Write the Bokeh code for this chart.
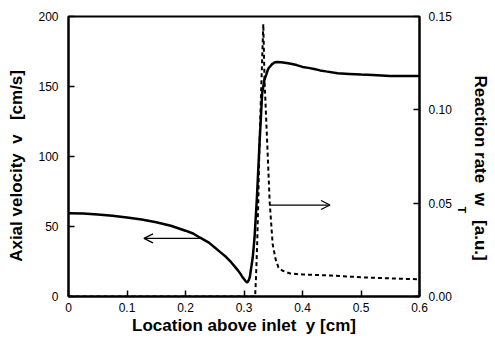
from bokeh.plotting import figure
from bokeh.models import (Range1d, LinearAxis, FixedTicker, Arrow, OpenHead, Title)
from bokeh.embed import file_html
from bokeh.resources import INLINE

# ---- data ----
y_vel = [0.0, 0.025, 0.05, 0.075, 0.10, 0.125, 0.15, 0.175, 0.20, 0.213, 0.225,
         0.24, 0.25, 0.26, 0.27, 0.278, 0.285, 0.29, 0.295, 0.298, 0.300, 0.303,
         0.3055, 0.308, 0.310, 0.315, 0.318, 0.322, 0.3265, 0.331, 0.335, 0.338,
         0.340, 0.342, 0.345, 0.348, 0.350, 0.353, 0.357, 0.363, 0.370, 0.38,
         0.39, 0.40, 0.41, 0.42, 0.43, 0.44, 0.46, 0.48, 0.50, 0.52, 0.55, 0.60]
velocity = [59.5, 59.2, 58.5, 57.7, 56.5, 55.0, 53.0, 50.5, 47.0, 45.0, 42.0,
            38.5, 35.0, 31.5, 28.0, 24.5, 21.0, 18.5, 15.5, 13.5, 12.5, 10.8,
            10.0, 11.5, 14.0, 28.0, 42.0, 70.0, 109.0, 145.0, 155.0, 158.5,
            161.0, 163.0, 164.5, 166.0, 166.5, 167.3, 167.5, 167.4, 167.0, 166.3,
            165.3, 164.0, 163.3, 162.5, 161.5, 160.8, 159.5, 159.0, 158.5, 158.2,
            157.5, 157.5]

y_rate = [0.0, 0.319, 0.3205, 0.3225, 0.3245, 0.3265, 0.330, 0.333, 0.335,
          0.3375, 0.3397, 0.344, 0.349, 0.354, 0.359, 0.366, 0.379, 0.40,
          0.45, 0.50, 0.55, 0.60]
rate = [0.0, 0.0, 0.010, 0.028, 0.052, 0.082, 0.117, 0.146, 0.117,
        0.098, 0.082, 0.050, 0.028, 0.020, 0.0155, 0.0138, 0.0123, 0.0118,
        0.0112, 0.0103, 0.0097, 0.0092]

x_ticks = [0.0, 0.1, 0.2, 0.3, 0.4, 0.5, 0.6]
x_tick_labels = ["0", "0.1", "0.2", "0.3", "0.4", "0.5", "0.6"]
v_ticks = [0, 50, 100, 150, 200]
r_ticks = [0.0, 0.05, 0.10, 0.15]
r_tick_labels = ["0.00", "0.05", "0.10", "0.15"]

FONT = "Liberation Sans"
NB = "\u00a0"

p = figure(width=495, height=343, output_backend="svg", toolbar_location=None,
           x_range=Range1d(0, 0.6), y_range=Range1d(0, 200),
           min_border_left=68, min_border_right=76, min_border_top=16,
           min_border_bottom=47)
p.extra_y_ranges = {"rate": Range1d(0, 0.15)}
p.xgrid.visible = False
p.ygrid.visible = False
p.outline_line_color = "black"
p.outline_line_width = 2
p.background_fill_color = "white"
p.border_fill_color = "white"

def style_axis(ax):
    ax.axis_line_width = 2
    ax.axis_line_color = "black"
    ax.major_tick_in = 6
    ax.major_tick_out = 0
    ax.major_tick_line_width = 1.5
    ax.minor_tick_line_color = None
    ax.major_label_text_font = FONT
    ax.major_label_text_font_size = "12px"
    ax.major_label_text_color = "black"
    ax.axis_label_text_font = FONT
    ax.axis_label_text_font_size = "17px"
    ax.axis_label_text_font_style = "bold"
    ax.axis_label_text_color = "black"

xa = p.xaxis[0]
style_axis(xa)
xa.ticker = FixedTicker(ticks=x_ticks)
xa.major_label_overrides = dict(zip(x_ticks, x_tick_labels))
xa.axis_label = "Location above inlet" + NB * 2 + "y [cm]"
xa.major_label_standoff = 6
xa.axis_label_standoff = 1

ya = p.yaxis[0]
style_axis(ya)
ya.ticker = FixedTicker(ticks=v_ticks)
ya.axis_label = "Axial velocity" + NB * 2 + "v" + NB * 3 + "[cm/s]" + NB * 4
ya.major_label_standoff = 10
ya.axis_label_standoff = 9

ra = LinearAxis(y_range_name="rate")
style_axis(ra)
ra.ticker = FixedTicker(ticks=r_ticks)
ra.major_label_overrides = dict(zip(r_ticks, r_tick_labels))
ra.major_label_standoff = 9
p.add_layout(ra, "right")

p.line(y_vel, velocity, line_color="black", line_width=2.5)
p.line(y_rate, rate, line_color="black", line_width=2, line_dash="4 3",
       y_range_name="rate")

p.add_layout(Arrow(end=OpenHead(size=9, line_width=1.3, line_color="black"),
                   line_width=1.3, line_color="black",
                   x_start=0.226, y_start=41.5, x_end=0.129, y_end=41.5))
p.add_layout(Arrow(end=OpenHead(size=9, line_width=1.3, line_color="black"),
                   line_width=1.3, line_color="black",
                   x_start=0.344, y_start=0.049, x_end=0.447, y_end=0.049,
                   y_range_name="rate"))

# right-side title: subscript first (closer to the frame), then main text
p.add_layout(Title(text="T", align="left", offset=190, standoff=2,
                   text_font=FONT, text_font_size="11px",
                   text_font_style="bold", text_color="black"), "right")
p.add_layout(Title(text="Reaction rate" + NB * 2 + "w" + NB * 3 + "[a.u.]",
                   align="left", offset=59, standoff=0,
                   text_font=FONT, text_font_size="17px",
                   text_font_style="bold", text_color="black"), "right")

open("out.html", "w").write(file_html(p, INLINE))
